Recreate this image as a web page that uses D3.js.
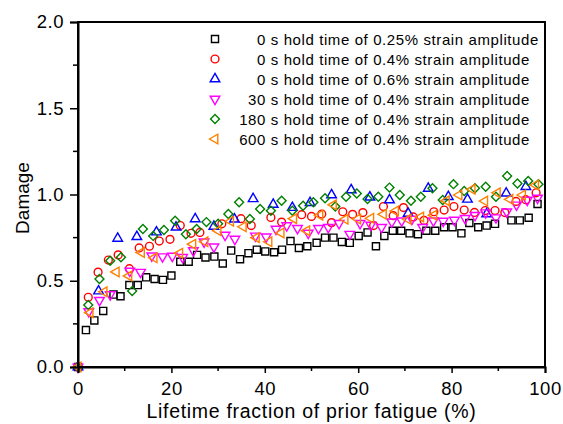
<!DOCTYPE html>
<html>
<head>
<meta charset="utf-8">
<script src="https://cdn.jsdelivr.net/npm/d3@7"></script>
<style>
  body { margin: 0; background: #fff; }
  svg text { font-family: Arial, "Liberation Sans", sans-serif; fill: #000; }
</style>
</head>
<body>
<div id="chart"></div>
<script>
// values: [lifetime fraction %, damage]
var hold0_025 = [[0,0],[1.7,0.214],[3.5,0.27],[5.4,0.325],[7.6,0.42],[9.1,0.41],[11,0.475],[12.8,0.475],[14.6,0.52],[16.4,0.51],[18.2,0.505],[20,0.53],[21.9,0.61],[23.7,0.61],[25.5,0.65],[27.3,0.635],[29.2,0.64],[31,0.6],[32.8,0.675],[34.7,0.625],[36.5,0.66],[38.3,0.68],[40.1,0.67],[42,0.665],[43.7,0.68],[45.5,0.73],[47.3,0.69],[49.1,0.7],[51.1,0.72],[52.9,0.75],[54.7,0.75],[56.5,0.725],[58.2,0.72],[60.1,0.76],[62,0.78],[63.8,0.7],[65.6,0.76],[67.4,0.79],[69.2,0.79],[71,0.775],[72.8,0.77],[74.6,0.79],[76.5,0.79],[78.4,0.81],[80.2,0.81],[82.1,0.775],[83.8,0.835],[85.7,0.81],[87.5,0.82],[89.3,0.83],[92.8,0.85],[94.6,0.85],[96.5,0.865],[98.4,0.945]];
var hold0_04 = [[0,0],[2.2,0.404],[4.3,0.55],[6.5,0.62],[8.6,0.65],[11,0.57],[13.1,0.69],[15.3,0.7],[17.4,0.73],[19.7,0.74],[21.9,0.82],[24.2,0.775],[26.1,0.78],[30.8,0.83],[34.9,0.86],[37.1,0.82],[41.3,0.867],[43.6,0.84],[47.9,0.883],[50,0.873],[52.2,0.887],[54.3,0.837],[56.7,0.9],[58.8,0.885],[61,0.895],[63.3,0.82],[65.4,0.93],[67.5,0.877],[69.7,0.924],[71.8,0.87],[74.1,0.85],[76.2,0.9],[78.4,0.91],[80.5,0.93],[82.7,0.91],[84.9,0.896],[87.2,0.907],[89.3,0.907],[91.4,0.895],[93.8,0.96],[95.9,0.97],[98.1,1.01]];
var hold0_06 = [[0,0],[4.4,0.44],[8.5,0.745],[12.6,0.755],[16.8,0.782],[21,0.81],[25.1,0.858],[29.1,0.815],[33.5,0.857],[37.5,0.975],[41.8,0.942],[45.9,0.924],[49.7,0.952],[54.3,0.997],[58.5,1.026],[62.5,0.984],[66.7,0.968],[70.7,0.89],[75,1.035],[79.3,0.987],[83.4,0.972],[87.5,0.887],[91.7,1.007],[95.9,1.045]];
var hold30_04 = [[0,0],[2.3,0.322],[4.6,0.387],[6.9,0.42],[11.1,0.556],[13.4,0.55],[15.8,0.645],[18.1,0.64],[20.2,0.643],[22.4,0.636],[24.7,0.675],[27,0.726],[29.1,0.697],[31.5,0.765],[33.6,0.742],[38,0.76],[40.3,0.755],[42.4,0.8],[44.7,0.82],[47,0.804],[49.3,0.777],[51.5,0.804],[53.6,0.81],[55.9,0.833],[58.2,0.77],[60.4,0.833],[62.7,0.823],[65,0.81],[67.2,0.842],[69.3,0.848],[71.5,0.858],[73.8,0.81],[76.1,0.848],[78.2,0.846],[80.6,0.852],[82.9,0.862],[85,0.88],[87.3,0.895],[89.5,0.866],[91.8,0.9],[93.9,0.94],[96.2,0.968],[98.4,0.98]];
var hold180_04 = [[0,0],[2.2,0.36],[4.6,0.51],[6.9,0.616],[9.2,0.636],[11.6,0.44],[13.9,0.8],[16.1,0.76],[18.4,0.794],[20.8,0.848],[23.1,0.77],[25.4,0.8],[27.5,0.84],[30,0.83],[32.2,0.887],[34.5,0.955],[36.8,0.858],[39,0.916],[41.3,0.906],[43.6,0.964],[45.9,0.906],[48.2,0.935],[50.4,0.955],[52.9,0.978],[55.1,0.93],[57.4,0.987],[59.7,1.006],[62,0.974],[64.3,0.987],[66.7,1.04],[68.9,0.997],[71.3,0.964],[73.4,0.987],[75.9,1.036],[78.1,0.968],[80.4,1.06],[82.7,1.02],[85,1.036],[87.3,1.045],[89.5,0.987],[91.9,1.107],[94.1,1.064],[96.4,1.078],[98.6,1.06]];
var hold600_04 = [[0,0],[2.6,0.315],[5.6,0.436],[8.2,0.551],[10.9,0.528],[13.6,0.664],[16.3,0.633],[21.8,0.66],[24.6,0.712],[27.2,0.726],[30,0.79],[32.7,0.845],[35.4,0.813],[38.2,0.75],[40.9,0.726],[43.5,0.777],[46.2,0.86],[49,0.79],[51.8,0.88],[54.7,0.94],[57.2,0.856],[59.9,0.858],[62.7,0.862],[65.4,0.885],[68,0.904],[70.7,0.856],[73.4,0.87],[76.2,0.88],[78.9,0.964],[81.6,0.997],[84.4,1.03],[87.1,0.962],[89.8,1.01],[92.5,0.972],[95.2,0.997],[98,1.055]];

var legendNums = ["0", "0", "0", "30", "180", "600"];
var legendText = [
  " s hold time of 0.25% strain amplitude",
  " s hold time of 0.4% strain amplitude",
  " s hold time of 0.6% strain amplitude",
  " s hold time of 0.4% strain amplitude",
  " s hold time of 0.4% strain amplitude",
  " s hold time of 0.4% strain amplitude"
];
var xTicks = [0, 20, 40, 60, 80, 100];
var yTicks = [0, 0.5, 1.0, 1.5, 2.0];

var series = [
  {data: hold0_025, color: "#000000", shape: "square"},
  {data: hold0_04, color: "#ff0000", shape: "circle"},
  {data: hold0_06, color: "#0000ff", shape: "up"},
  {data: hold30_04, color: "#ff00ff", shape: "down"},
  {data: hold180_04, color: "#008000", shape: "diamond"},
  {data: hold600_04, color: "#ff8000", shape: "left"}
];

var W = 563, H = 424;
var m = {left: 78, right: 18, top: 22, bottom: 57};

var svg = d3.select("#chart").append("svg")
  .attr("width", W).attr("height", H);

var x = d3.scaleLinear().domain([0, 100]).range([m.left, W - m.right]);
var y = d3.scaleLinear().domain([0, 2]).range([H - m.bottom, m.top]);

// marker path per shape
function marker(shape) {
  if (shape == "square") return {d: d3.symbol(d3.symbolSquare, 50)(), rot: 0};
  if (shape == "circle") return {d: d3.symbol(d3.symbolCircle, 48)(), rot: 0};
  if (shape == "diamond") return {d: d3.symbol(d3.symbolSquare, 40)(), rot: 45};
  var tri = d3.symbol(d3.symbolTriangle, 40)();
  if (shape == "up") return {d: tri, rot: 0};
  if (shape == "down") return {d: tri, rot: 180};
  return {d: tri, rot: -90};
}

// minor ticks
var xMinor = d3.range(10, 100, 20);
var yMinor = d3.range(0.25, 2, 0.5);

var g = svg.append("g");

// points
series.forEach(function(s) {
  var mk = marker(s.shape);
  g.append("g").selectAll("path")
    .data(s.data)
    .enter().append("path")
    .attr("d", mk.d)
    .attr("transform", function(d) {
      return "translate(" + x(d[0]) + "," + y(d[1]) + ") rotate(" + mk.rot + ")";
    })
    .attr("fill", "none")
    .attr("stroke", s.color)
    .attr("stroke-width", 1.4);
});

// frame
svg.append("rect")
  .attr("x", x(0)).attr("y", y(2))
  .attr("width", x(100) - x(0)).attr("height", y(0) - y(2))
  .attr("fill", "none").attr("stroke", "#000").attr("stroke-width", 2);

var xAxis = svg.append("g")
  .attr("transform", "translate(0," + y(0) + ")")
  .call(d3.axisBottom(x).tickValues(xTicks).tickSize(6).tickPadding(9).tickFormat(d3.format("d")));
xAxis.append("g").selectAll("line").data(xMinor).enter().append("line")
  .attr("x1", function(d){ return x(d); }).attr("x2", function(d){ return x(d); })
  .attr("y1", 0).attr("y2", 4).attr("stroke", "#000").attr("stroke-width", 1.5);

var yAxis = svg.append("g")
  .attr("transform", "translate(" + x(0) + ",0)")
  .call(d3.axisLeft(y).tickValues(yTicks).tickSize(8).tickPadding(6).tickFormat(d3.format(".1f")));
yAxis.append("g").selectAll("line").data(yMinor).enter().append("line")
  .attr("y1", function(d){ return y(d); }).attr("y2", function(d){ return y(d); })
  .attr("x1", 0).attr("x2", -5).attr("stroke", "#000").attr("stroke-width", 1.5);

[xAxis, yAxis].forEach(function(a) {
  a.select(".domain").attr("stroke-width", 2);
  a.selectAll(".tick line").attr("stroke-width", 1.5);
  a.selectAll("text").attr("font-size", 18.5).attr("letter-spacing", 0.5)
    .attr("font-family", "Arial, 'Liberation Sans', sans-serif");
});

svg.append("text")
  .attr("x", (x(0) + x(100)) / 2).attr("y", 418)
  .attr("text-anchor", "middle").attr("font-size", 19.5).attr("letter-spacing", 0.7)
  .text("Lifetime fraction of prior fatigue (%)");

svg.append("text")
  .attr("transform", "translate(28.5," + 198 + ") rotate(-90)")
  .attr("text-anchor", "middle").attr("font-size", 19)
  .text("Damage");

// legend
var leg = svg.append("g");
series.forEach(function(s, i) {
  var ly = 39 + i * 20;
  var mk = marker(s.shape);
  leg.append("path")
    .attr("d", mk.d)
    .attr("transform", "translate(215," + ly + ") rotate(" + mk.rot + ")")
    .attr("fill", "none").attr("stroke", s.color).attr("stroke-width", 1.4);
  leg.append("text")
    .attr("x", 266).attr("y", ly + 5.5)
    .attr("text-anchor", "end").attr("font-size", 15).attr("letter-spacing", 0.6)
    .text(legendNums[i]);
  leg.append("text")
    .attr("x", 266).attr("y", ly + 5.5)
    .attr("font-size", 15).attr("letter-spacing", 0.6)
    .style("white-space", "pre")
    .text(legendText[i]);
});
</script>
</body>
</html>
